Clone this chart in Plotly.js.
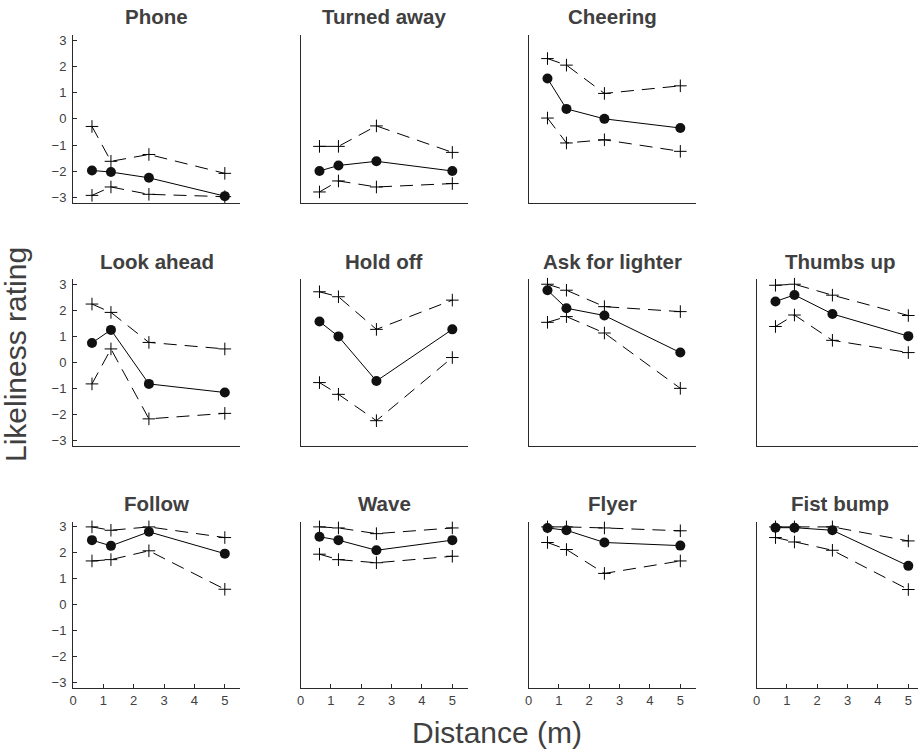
<!DOCTYPE html>
<html>
<head>
<meta charset="utf-8">
<script src="https://cdn.plot.ly/plotly-3.0.1.min.js"></script>
<style>
  html, body { margin: 0; padding: 0; background: #fff; }
  #chart { width: 918px; height: 750px; }
</style>
</head>
<body>
<div id="chart"></div>
<script>
// Approach distances (m)
const distances = [0.625, 1.25, 2.5, 5];

// Gesture panels, in grid reading order
const gestures = ['Phone', 'Turned away', 'Cheering',
                  'Look ahead', 'Hold off', 'Ask for lighter', 'Thumbs up',
                  'Follow', 'Wave', 'Flyer', 'Fist bump'];

// Grid cell (row, col) for each gesture
const gridRow = [0, 0, 0, 1, 1, 1, 1, 2, 2, 2, 2];
const gridCol = [0, 1, 2, 0, 1, 2, 3, 0, 1, 2, 3];

// Mean likeliness rating per distance
const meanRating = [
  [-1.97, -2.03, -2.25, -2.95],
  [-1.99, -1.78, -1.62, -1.99],
  [1.54, 0.38, 0.0, -0.35],
  [0.75, 1.25, -0.82, -1.15],
  [1.57, 1.0, -0.71, 1.27],
  [2.77, 2.08, 1.8, 0.38],
  [2.34, 2.59, 1.86, 1.01],
  [2.49, 2.27, 2.81, 1.97],
  [2.62, 2.49, 2.1, 2.49],
  [2.96, 2.87, 2.4, 2.28],
  [2.97, 2.97, 2.87, 1.5]
];

// Upper bound of the interval
const upperBound = [
  [-0.29, -1.62, -1.36, -2.08],
  [-1.05, -1.05, -0.27, -1.28],
  [2.30, 2.05, 0.97, 1.26],
  [2.24, 1.92, 0.77, 0.52],
  [2.71, 2.52, 1.27, 2.39],
  [3.0, 2.77, 2.14, 1.95],
  [2.96, 3.0, 2.58, 1.8],
  [3.0, 2.87, 3.0, 2.59],
  [3.0, 2.96, 2.74, 2.96],
  [3.0, 3.0, 2.96, 2.85],
  [3.0, 3.0, 3.0, 2.46]
];

// Lower bound of the interval
const lowerBound = [
  [-2.92, -2.6, -2.88, -2.97],
  [-2.79, -2.37, -2.6, -2.47],
  [0.03, -0.92, -0.8, -1.24],
  [-0.82, 0.52, -2.16, -1.95],
  [-0.77, -1.22, -2.23, 0.19],
  [1.54, 1.76, 1.13, -0.99],
  [1.38, 1.82, 0.85, 0.38],
  [1.69, 1.74, 2.08, 0.6],
  [1.95, 1.74, 1.62, 1.87],
  [2.4, 2.13, 1.21, 1.69],
  [2.59, 2.42, 2.1, 0.59]
];

const yTicks = [-3, -2, -1, 0, 1, 2, 3];
const xTicks = [0, 1, 2, 3, 4, 5];

// ---- layout geometry (pixels) ----
const W = 918, H = 750;
const colLeft = [73, 300.5, 528.5, 756.5];
const colWidth = 167;          // spans x = 0 .. 5.5
const pxPerUnit = colWidth / 5.5;
const rowTop = [35, 279, 521.7];
const rowBottom = [202.7, 446, 688];

const FONT = 'Liberation Sans, Arial, Helvetica, sans-serif';
const TXT = '#404040';
const AX = '#2a2a2a';

const traces = [];
const layout = {
  width: W, height: H,
  margin: {l: 0, r: 0, t: 0, b: 0},
  paper_bgcolor: '#fff', plot_bgcolor: '#fff',
  showlegend: false,
  hovermode: false,
  font: {family: FONT, color: TXT, size: 13},
  annotations: []
};

gestures.forEach((name, i) => {
  const r = gridRow[i], c = gridCol[i];
  const k = i === 0 ? '' : String(i + 1);
  const xa = 'x' + k, ya = 'y' + k;

  const x0 = colLeft[c] / W;
  const x1 = Math.min(1, (colLeft[c] + colWidth) / W);
  const xMax = (Math.min(W, colLeft[c] + colWidth) - colLeft[c]) / pxPerUnit;
  const y0 = 1 - rowBottom[r] / H;
  const y1 = 1 - rowTop[r] / H;
  const bottomRow = r === 2;
  const firstCol = c === 0;

  layout['xaxis' + k] = {
    domain: [x0, x1], anchor: ya, range: [0, xMax],
    showline: true, linecolor: AX, linewidth: 1,
    showgrid: false, zeroline: false,
    tickvals: bottomRow ? xTicks : [],
    ticks: bottomRow ? 'inside' : '', ticklen: 4, tickcolor: AX,
    showticklabels: bottomRow,
    tickfont: {family: FONT, size: 13, color: TXT},
    fixedrange: true
  };
  layout['yaxis' + k] = {
    domain: [y0, y1], anchor: xa, range: [-3.2, 3.2],
    showline: true, linecolor: AX, linewidth: 1,
    showgrid: false, zeroline: false,
    tickvals: firstCol ? yTicks : [],
    ticks: firstCol ? 'inside' : '', ticklen: 4, tickcolor: AX,
    showticklabels: firstCol,
    ticklabelstandoff: 3,
    tickfont: {family: FONT, size: 13, color: TXT},
    fixedrange: true
  };

  const bound = (vals) => ({
    type: 'scatter', mode: 'lines+markers', xaxis: xa, yaxis: ya,
    x: distances, y: vals,
    line: {color: '#000', width: 1, dash: '13px,8px'},
    marker: {symbol: 'cross-thin', size: 9, line: {color: '#000', width: 1}},
    cliponaxis: false
  });
  traces.push(bound(upperBound[i]));
  traces.push(bound(lowerBound[i]));
  traces.push({
    type: 'scatter', mode: 'lines+markers', xaxis: xa, yaxis: ya,
    x: distances, y: meanRating[i],
    line: {color: '#000', width: 1},
    marker: {symbol: 'circle', size: 10, color: '#111'},
    cliponaxis: false
  });

  layout.annotations.push({
    xref: 'paper', yref: 'paper',
    x: (colLeft[c] + colWidth / 2) / W, y: y1,
    xanchor: 'center', yanchor: 'middle', yshift: 18,
    text: '<b>' + name + '</b>', showarrow: false,
    font: {family: FONT, size: 20.5, color: TXT}
  });
});

// Shared axis labels
layout.annotations.push({
  xref: 'paper', yref: 'paper',
  x: 497 / W, y: 1 - 732 / H,
  xanchor: 'center', yanchor: 'middle',
  text: 'Distance (m)', showarrow: false,
  font: {family: FONT, size: 30, color: TXT}
});
layout.annotations.push({
  xref: 'paper', yref: 'paper',
  x: 15 / W, y: 1 - 355 / H,
  xanchor: 'center', yanchor: 'middle', textangle: -90,
  text: 'Likeliness rating', showarrow: false,
  font: {family: FONT, size: 30, color: TXT}
});

Plotly.newPlot('chart', traces, layout, {staticPlot: true, displayModeBar: false});
</script>
</body>
</html>
